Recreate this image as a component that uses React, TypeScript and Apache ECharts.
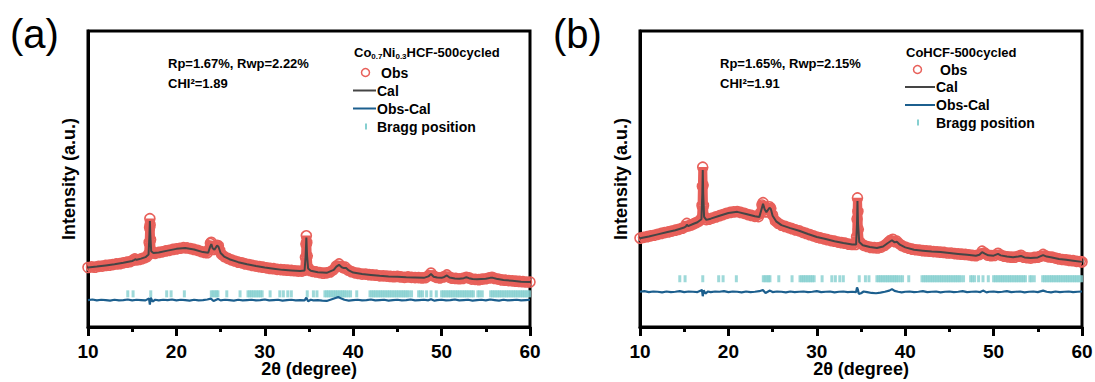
import React, { useEffect, useRef } from "react";
import * as echarts from "echarts";

// ---------- DATA ----------
const xTicks = [10, 20, 30, 40, 50, 60];

const leftObs: number[][] = [
  [10.0, 20.1], [10.4, 20.3], [10.8, 20.2], [11.2, 20.5], [11.6, 20.6], [12.0, 20.8], [12.4, 20.9], [12.8, 21.1],
  [13.2, 21.3], [13.6, 21.4], [14.0, 21.7], [14.4, 21.9], [14.8, 22.1], [15.1, 22.6], [15.3, 23.0], [15.5, 22.7],
  [15.8, 22.8], [16.1, 23.1], [16.4, 23.4], [16.7, 23.8], [16.85, 24.6], [16.92, 28.5], [16.97, 33.5], [17.0, 36.6],
  [17.03, 34.5], [17.08, 29.5], [17.15, 25.8], [17.3, 25.0], [17.6, 24.9], [18.0, 25.2], [18.4, 25.4], [18.8, 25.7],
  [19.2, 25.9], [19.6, 26.2], [20.0, 26.4], [20.4, 26.6], [20.8, 26.8], [21.2, 26.7], [21.6, 26.5], [22.0, 26.2],
  [22.4, 25.9], [22.8, 25.5], [23.2, 25.2], [23.5, 25.1], [23.7, 26.3], [23.85, 28.2], [23.95, 28.6], [24.1, 27.0],
  [24.25, 26.2], [24.4, 26.6], [24.6, 27.6], [24.75, 27.4], [24.9, 25.8], [25.1, 24.6], [25.4, 23.8], [25.8, 23.2],
  [26.2, 22.7], [26.6, 22.3], [27.0, 21.9], [27.4, 21.7], [27.8, 21.3], [28.2, 21.1], [28.6, 20.8], [29.0, 20.6],
  [29.4, 20.4], [29.8, 20.2], [30.2, 20.0], [30.6, 19.8], [31.0, 19.7], [31.4, 19.5], [31.8, 19.4], [32.2, 19.3],
  [32.6, 19.2], [33.0, 19.1], [33.4, 19.0], [33.8, 18.9], [34.2, 18.9], [34.5, 19.2], [34.6, 23.5], [34.65, 28.0],
  [34.7, 30.8], [34.75, 28.5], [34.8, 24.0], [34.9, 20.0], [35.1, 19.1], [35.4, 18.8], [35.8, 18.6], [36.2, 18.4],
  [36.6, 18.2], [37.0, 18.3], [37.4, 18.6], [37.8, 19.4], [38.1, 20.6], [38.4, 21.3], [38.7, 20.4], [38.9, 20.0],
  [39.1, 20.2], [39.4, 19.3], [39.8, 18.7], [40.2, 18.3], [40.6, 18.1], [41.0, 17.9], [41.4, 17.9], [41.8, 17.7],
  [42.2, 17.6], [42.6, 17.5], [43.0, 17.3], [43.4, 17.3], [43.8, 17.2], [44.2, 17.1], [44.6, 17.0], [45.0, 17.1],
  [45.4, 16.9], [45.8, 16.8], [46.2, 16.9], [46.6, 16.8], [47.0, 16.7], [47.4, 16.7], [47.8, 16.6], [48.2, 16.7],
  [48.5, 17.3], [48.8, 18.2], [49.1, 17.2], [49.4, 16.8], [49.8, 16.6], [50.2, 16.9], [50.6, 17.6], [50.9, 16.8],
  [51.2, 16.5], [51.6, 16.4], [52.0, 16.3], [52.4, 16.4], [52.8, 16.8], [53.1, 16.6], [53.4, 16.2], [53.8, 16.1],
  [54.2, 16.0], [54.6, 16.2], [55.0, 16.3], [55.4, 16.6], [55.7, 16.8], [56.0, 16.4], [56.4, 16.2], [56.8, 15.9],
  [57.2, 15.8], [57.6, 15.7], [58.0, 15.6], [58.4, 15.5], [58.8, 15.4], [59.2, 15.3], [59.6, 15.2], [60.0, 15.2],
];

const leftCal: number[][] = [
  [10, 20.1], [11, 20.4], [12, 20.8], [13, 21.2], [14, 21.7], [15, 22.3], [15.2, 22.6], [15.35, 22.9], [15.5, 22.7],
  [16, 23.1], [16.5, 23.6], [16.85, 24.5], [16.95, 31], [17.0, 35.8], [17.05, 31], [17.15, 25.6], [17.4, 25.0],
  [18, 25.2], [19, 25.8], [20, 26.4], [21, 26.7], [22, 26.2], [23, 25.3], [23.6, 25.1], [23.8, 27.0], [23.95, 28.0],
  [24.1, 26.6], [24.3, 26.1], [24.6, 27.5], [24.75, 27.2], [25.0, 25.0], [25.4, 23.8], [26, 22.9], [27, 21.9],
  [28, 21.2], [29, 20.6], [30, 20.1], [31, 19.7], [32, 19.3], [33, 19.1], [34, 18.9], [34.5, 19.1], [34.62, 24],
  [34.7, 30.2], [34.78, 24], [34.9, 19.8], [35.2, 19.0], [36, 18.5], [37, 18.3], [37.8, 19.3], [38.1, 20.4],
  [38.4, 21.0], [38.7, 20.2], [38.95, 19.9], [39.2, 19.9], [39.5, 19.1], [40, 18.4], [41, 17.9], [42, 17.6],
  [43, 17.3], [44, 17.1], [45, 17.0], [46, 16.8], [47, 16.7], [48, 16.6], [48.5, 17.1], [48.8, 17.9], [49.1, 17.0],
  [49.5, 16.7], [50, 16.6], [50.3, 16.9], [50.6, 17.4], [50.9, 16.7], [51.5, 16.4], [52, 16.3], [52.5, 16.5],
  [52.8, 16.8], [53.1, 16.5], [53.5, 16.2], [54, 16.1], [55, 16.3], [55.5, 16.6], [55.8, 16.6], [56.2, 16.3],
  [57, 15.9], [58, 15.6], [59, 15.3], [60, 15.2],
];

const leftDiff: number[][] = [
  [10, 9.1], [10.5, 9.3], [11, 9.0], [11.5, 9.2], [12, 9.1], [12.5, 8.9], [13, 9.2], [13.5, 9.0], [14, 9.1],
  [14.5, 9.3], [15, 9.0], [15.5, 9.2], [16, 9.1], [16.5, 9.0], [16.9, 9.6], [17.0, 7.6], [17.1, 9.9], [17.3, 8.6],
  [17.6, 9.2], [18, 9.0], [18.5, 9.2], [19, 9.1], [19.5, 9.3], [20, 9.0], [20.5, 9.2], [21, 9.1], [21.5, 8.9],
  [22, 9.2], [22.5, 9.0], [23, 9.1], [23.5, 9.3], [23.9, 9.6], [24.2, 8.8], [24.7, 9.5], [25, 9.0], [25.5, 9.2],
  [26, 9.1], [26.5, 8.9], [27, 9.2], [27.5, 9.0], [28, 9.1], [28.5, 9.2], [29, 9.0], [29.5, 9.1], [30, 9.3],
  [30.5, 9.0], [31, 9.1], [31.5, 9.2], [32, 8.9], [32.5, 9.1], [33, 9.2], [33.5, 9.0], [34, 9.1], [34.5, 9.0],
  [34.7, 9.9], [34.9, 8.7], [35.2, 9.2], [35.5, 9.0], [36, 9.1], [36.5, 8.9], [37, 8.8], [37.5, 9.3], [38, 9.8],
  [38.3, 10.1], [38.6, 9.7], [39, 9.2], [39.5, 8.9], [40, 9.1], [40.5, 9.2], [41, 9.0], [41.5, 9.1], [42, 9.3],
  [42.5, 9.0], [43, 9.1], [43.5, 9.2], [44, 8.9], [44.5, 9.1], [45, 9.2], [45.5, 9.0], [46, 9.1], [46.5, 9.3],
  [47, 9.0], [47.5, 9.1], [48, 9.2], [48.5, 9.0], [48.8, 9.4], [49.2, 8.9], [49.5, 9.1], [50, 9.2], [50.5, 9.0],
  [51, 9.1], [51.5, 9.3], [52, 9.0], [52.5, 9.1], [53, 9.2], [53.5, 8.9], [54, 9.1], [54.5, 9.2], [55, 9.0],
  [55.5, 9.3], [56, 9.1], [56.5, 8.9], [57, 9.2], [57.5, 9.0], [58, 9.1], [58.5, 9.2], [59, 9.0], [59.5, 9.1],
  [60, 9.2],
];

const rightObs: number[][] = [
  [10.0, 30.0], [10.4, 30.3], [10.8, 30.5], [11.2, 30.8], [11.6, 31.0], [12.0, 31.3], [12.4, 31.6], [12.8, 31.9],
  [13.2, 32.1], [13.6, 32.4], [14.0, 32.7], [14.4, 33.0], [14.8, 33.4], [15.1, 33.9], [15.3, 35.0], [15.5, 34.2],
  [15.8, 34.5], [16.1, 34.9], [16.4, 35.3], [16.7, 35.8], [16.95, 36.6], [17.02, 41.0], [17.06, 47.5], [17.1, 54.0],
  [17.14, 48.0], [17.18, 41.0], [17.25, 37.4], [17.5, 36.3], [17.8, 36.4], [18.2, 36.8], [18.6, 37.2], [19.0, 37.6],
  [19.4, 38.0], [19.8, 38.4], [20.2, 38.7], [20.6, 38.9], [21.0, 39.0], [21.4, 38.7], [21.8, 38.4], [22.2, 38.0],
  [22.6, 37.7], [23.0, 37.4], [23.4, 37.3], [23.65, 38.6], [23.8, 41.2], [23.92, 42.0], [24.05, 40.6], [24.25, 38.9],
  [24.45, 39.6], [24.65, 40.6], [24.8, 40.1], [25.0, 37.8], [25.3, 35.9], [25.6, 35.1], [26.0, 34.4], [26.4, 34.0],
  [26.8, 33.6], [27.2, 33.2], [27.6, 32.8], [28.0, 32.5], [28.4, 32.0], [28.8, 31.6], [29.2, 31.2], [29.6, 30.8],
  [30.0, 30.4], [30.4, 30.1], [30.8, 29.8], [31.2, 29.5], [31.6, 29.2], [32.0, 29.0], [32.4, 28.7], [32.8, 28.5],
  [33.2, 28.3], [33.6, 28.0], [34.0, 27.9], [34.4, 27.9], [34.5, 30.5], [34.55, 36.5], [34.6, 43.6], [34.65, 39.0],
  [34.7, 33.0], [34.8, 28.9], [35.0, 28.2], [35.3, 27.6], [35.7, 27.2], [36.1, 26.9], [36.5, 26.8], [36.9, 26.7],
  [37.3, 27.0], [37.7, 27.6], [38.0, 28.4], [38.3, 29.2], [38.6, 29.6], [38.85, 28.8], [39.05, 29.0], [39.3, 28.2],
  [39.6, 27.5], [40.0, 27.0], [40.4, 26.6], [40.8, 26.3], [41.2, 26.1], [41.6, 26.0], [42.0, 25.8], [42.4, 25.7],
  [42.8, 25.6], [43.2, 25.5], [43.6, 25.4], [44.0, 25.3], [44.4, 25.2], [44.8, 25.0], [45.2, 25.0], [45.6, 24.8],
  [46.0, 24.7], [46.4, 24.6], [46.8, 24.5], [47.2, 24.4], [47.6, 24.2], [48.0, 24.1], [48.4, 24.5], [48.7, 25.6],
  [49.0, 25.0], [49.3, 24.3], [49.7, 24.1], [50.1, 24.2], [50.5, 24.9], [50.8, 24.3], [51.2, 23.9], [51.6, 23.7],
  [52.0, 23.6], [52.4, 23.6], [52.8, 23.9], [53.1, 24.2], [53.4, 23.6], [53.8, 23.4], [54.2, 23.3], [54.6, 23.5],
  [55.0, 23.6], [55.3, 23.9], [55.6, 24.5], [55.9, 24.0], [56.2, 23.7], [56.6, 23.6], [57.0, 23.3], [57.4, 23.0],
  [57.8, 22.8], [58.2, 22.7], [58.6, 22.5], [59.0, 22.4], [59.4, 22.2], [59.8, 22.1], [60.0, 22.0],
];

const rightCal: number[][] = [
  [10, 30.0], [11, 30.6], [12, 31.3], [13, 32.0], [14, 32.7], [15, 33.6], [15.2, 34.0], [15.3, 34.6], [15.45, 34.1],
  [16, 34.8], [16.5, 35.4], [16.95, 36.4], [17.05, 45], [17.1, 53.0], [17.15, 45], [17.25, 37.2], [17.5, 36.2],
  [18, 36.6], [19, 37.6], [20, 38.5], [21, 38.9], [22, 38.2], [23, 37.4], [23.5, 37.2], [23.75, 39.8], [23.92, 41.6],
  [24.1, 39.8], [24.3, 38.8], [24.65, 40.3], [24.8, 39.9], [25.0, 37.6], [25.4, 35.7], [26, 34.4], [27, 33.4],
  [28, 32.5], [29, 31.4], [30, 30.4], [31, 29.7], [32, 29.0], [33, 28.4], [34, 27.9], [34.45, 27.9], [34.55, 35],
  [34.6, 42.6], [34.66, 35], [34.8, 28.7], [35.2, 27.6], [36, 27.0], [36.8, 26.7], [37.5, 27.2], [38, 28.3],
  [38.5, 29.3], [38.8, 28.6], [39.05, 28.8], [39.4, 27.8], [40, 26.9], [41, 26.1], [42, 25.8], [43, 25.5],
  [44, 25.3], [45, 25.0], [46, 24.7], [47, 24.4], [48, 24.1], [48.4, 24.4], [48.7, 25.3], [49.0, 24.8], [49.4, 24.2],
  [50, 24.1], [50.5, 24.7], [50.8, 24.2], [51.5, 23.8], [52.2, 23.6], [52.8, 23.8], [53.1, 24.0], [53.5, 23.5],
  [54.2, 23.3], [55, 23.5], [55.6, 24.3], [56, 23.8], [56.6, 23.5], [57.4, 23.0], [58.2, 22.7], [59, 22.4],
  [60, 22.0],
];

const rightDiff: number[][] = [
  [10, 11.9], [10.5, 12.1], [11, 11.8], [11.5, 12.0], [12, 11.9], [12.5, 11.7], [13, 12.0], [13.5, 11.8], [14, 11.9],
  [14.5, 12.1], [15, 11.8], [15.5, 12.0], [16, 11.9], [16.5, 11.8], [16.9, 12.3], [17.0, 12.6], [17.1, 10.4],
  [17.2, 12.4], [17.4, 11.3], [17.7, 12.0], [18, 11.8], [18.5, 12.0], [19, 11.9], [19.5, 12.1], [20, 11.8],
  [20.5, 12.0], [21, 11.9], [21.5, 11.7], [22, 12.0], [22.5, 11.8], [23, 11.9], [23.5, 12.1], [23.9, 12.5],
  [24.2, 11.5], [24.7, 12.3], [25, 11.8], [25.5, 12.0], [26, 11.9], [26.5, 11.7], [27, 12.0], [27.5, 11.8],
  [28, 11.9], [28.5, 12.0], [29, 11.8], [29.5, 11.9], [30, 12.1], [30.5, 11.8], [31, 11.9], [31.5, 12.0],
  [32, 11.7], [32.5, 11.9], [33, 12.0], [33.5, 11.8], [34, 11.9], [34.45, 11.8], [34.55, 13.4], [34.65, 12.6],
  [34.75, 11.2], [35.0, 11.4], [35.3, 12.0], [35.7, 11.8], [36.2, 11.5], [36.7, 11.4], [37.2, 11.6], [37.7, 11.9],
  [38.2, 12.3], [38.5, 12.8], [38.8, 12.2], [39.2, 11.9], [39.6, 11.7], [40, 11.9], [40.5, 12.0], [41, 11.8],
  [41.5, 11.9], [42, 12.1], [42.5, 11.8], [43, 11.9], [43.5, 12.0], [44, 11.7], [44.5, 11.9], [45, 12.0],
  [45.5, 11.8], [46, 11.9], [46.5, 12.1], [47, 11.8], [47.5, 11.9], [48, 12.0], [48.5, 11.8], [48.8, 12.3],
  [49.2, 11.7], [49.5, 11.9], [50, 12.0], [50.5, 11.8], [51, 11.9], [51.5, 12.1], [52, 11.8], [52.5, 11.9],
  [53, 12.0], [53.5, 11.7], [54, 11.9], [54.5, 12.0], [55, 11.8], [55.6, 12.3], [56, 11.9], [56.5, 11.7],
  [57, 12.0], [57.5, 11.8], [58, 11.9], [58.5, 12.0], [59, 11.8], [59.5, 11.9], [60, 12.0],
];

const braggPositions = [
  14.5, 15.1, 17.1, 18.9, 19.4, 20.9,
  23.95, 24.15, 24.35, 24.55, 24.7, 25.7, 27.2,
  28.1, 28.3, 28.5, 28.7, 28.9, 29.1, 29.3, 29.5, 29.7, 30.6, 31.7, 32.1, 32.6, 33.0,
  34.8, 35.5, 35.9,
  36.8, 37.0, 37.2, 37.4, 37.6, 37.8, 38.0, 38.2, 38.4, 38.6, 38.8, 39.0, 39.2, 39.45, 39.7, 40.4,
  41.9, 42.1, 42.3, 42.5, 42.7, 42.9, 43.1, 43.3, 43.5, 43.7, 43.9, 44.1, 44.3, 44.5, 44.7, 44.9, 45.1,
  45.3, 45.5, 45.7, 45.9, 46.1, 46.3, 46.6,
  47.4, 47.6, 47.85, 48.3, 48.8, 49.4,
  50.0, 50.2, 50.4, 50.6, 50.8, 51.0, 51.2, 51.4, 51.6, 51.8, 52.0, 52.2, 52.4, 52.6, 52.8, 53.0, 53.2,
  53.4, 53.6, 54.1, 54.3, 54.6,
  55.55, 55.75, 55.95, 56.15, 56.35, 56.55, 56.75, 56.95, 57.15, 57.35, 57.55, 57.75, 57.95, 58.15, 58.35,
  58.55, 58.75, 58.95, 59.15, 59.35, 59.55, 59.75, 59.95,
];
const leftBraggLevel = 11.2;
const rightBraggLevel = 16.3;

const panelLabels = ["(a)", "(b)"];
const legendTitles = ["{n|Co}{s|0.7}{n|Ni}{s|0.3}{n|HCF-500cycled}", "{n|CoHCF-500cycled}"];
const rpTexts = ["Rp=1.67%, Rwp=2.22%", "Rp=1.65%, Rwp=2.15%"];
const chiTexts = ["CHI²=1.89", "CHI²=1.91"];
const legendNames = ["Obs", "Cal", "Obs-Cal", "Bragg position"];

// ---------- STYLE ----------
const OBS = "#e8605a";
const CAL = "#454545";
const DIFF = "#1c5f8e";
const BRAGG = "#86cfd0";
const FONT = "'Liberation Sans', Arial, Helvetica, sans-serif";

const grids = [
  { left: 88, right: 1095 - 530, top: 31, bottom: 382 - 327 },
  { left: 640, right: 1095 - 1082, top: 31, bottom: 382 - 327 },
];

function makeAxes() {
  const xAxis: any[] = [];
  const yAxis: any[] = [];
  grids.forEach((_, i) => {
    xAxis.push({
      type: "value",
      gridIndex: i,
      min: xTicks[0],
      max: xTicks[xTicks.length - 1],
      interval: 10,
      name: "2θ (degree)",
      nameLocation: "middle",
      nameGap: 33,
      nameMoveOverlap: false,
      nameTextStyle: { fontFamily: FONT, fontWeight: "bold", fontSize: 18, color: "#000" },
      axisLine: { show: true, onZero: false, lineStyle: { color: "#000", width: 3 } },
      axisTick: { show: true, length: 9, lineStyle: { color: "#000", width: 3 } },
      minorTick: { show: true, splitNumber: 2, length: 5, lineStyle: { color: "#000", width: 3 } },
      splitLine: { show: false },
      minorSplitLine: { show: false },
      axisLabel: { margin: 15, fontFamily: FONT, fontWeight: "bold", fontSize: 19, color: "#000" },
    });
    yAxis.push({
      type: "value",
      gridIndex: i,
      min: 0,
      max: 100,
      name: "Intensity (a.u.)",
      nameLocation: "middle",
      nameGap: 10,
      nameMoveOverlap: false,
      nameTextStyle: { fontFamily: FONT, fontWeight: "bold", fontSize: 18, color: "#000" },
      axisLine: { show: true, lineStyle: { color: "#000", width: 3 } },
      axisTick: { show: false },
      axisLabel: { show: false },
      splitLine: { show: false },
    });
  });
  return { xAxis, yAxis };
}

function panelSeries(i: number, obs: number[][], cal: number[][], diff: number[][], level: number) {
  return [
    {
      name: "Obs",
      type: "line",
      xAxisIndex: i,
      yAxisIndex: i,
      data: obs,
      symbol: "circle",
      symbolSize: 10,
      showSymbol: true,
      showAllSymbol: true,
      lineStyle: { color: OBS, width: 9 },
      itemStyle: { color: "rgba(255,255,255,0)", borderColor: OBS, borderWidth: 1.6 },
      z: 2,
      silent: true,
    },
    {
      name: "Cal",
      type: "line",
      xAxisIndex: i,
      yAxisIndex: i,
      data: cal,
      symbol: "none",
      lineStyle: { color: CAL, width: 2 },
      z: 3,
      silent: true,
    },
    {
      name: "Obs-Cal",
      type: "line",
      xAxisIndex: i,
      yAxisIndex: i,
      data: diff,
      symbol: "none",
      lineStyle: { color: DIFF, width: 2.2 },
      z: 3,
      silent: true,
    },
    {
      name: "Bragg position",
      type: "scatter",
      xAxisIndex: i,
      yAxisIndex: i,
      data: braggPositions.map((p) => [p, level]),
      symbol: "rect",
      symbolSize: [3, 7],
      itemStyle: { color: BRAGG },
      z: 2,
      silent: true,
    },
  ];
}

function legendGraphics(i: number) {
  const cfg = [
    { lx: 10, tx: 168, ix: 353, title: 52, rows: [72.5, 90.5, 108.5, 126.5], textX: 377 },
    { lx: 553, tx: 720, ix: 905, title: 52, rows: [69.5, 87, 105, 122.5], textX: 936 },
  ][i];
  const bold = { fontFamily: FONT, fontWeight: "bold" as const, fill: "#000" };
  const els: any[] = [
    {
      type: "text",
      left: cfg.lx,
      top: 14,
      style: { text: panelLabels[i], font: `40px ${FONT}`, fill: "#000" },
    },
    {
      type: "text",
      x: cfg.tx,
      y: 63,
      style: { ...bold, text: rpTexts[i], fontSize: 13, verticalAlign: "middle" },
    },
    {
      type: "text",
      x: cfg.tx,
      y: 83,
      style: { ...bold, text: chiTexts[i], fontSize: 13, verticalAlign: "middle" },
    },
    {
      type: "text",
      x: cfg.ix + 1,
      y: cfg.title,
      style: {
        text: legendTitles[i],
        verticalAlign: "middle",
        rich: {
          n: { fontFamily: FONT, fontWeight: "bold", fontSize: 13, fill: "#000", lineHeight: 16 },
          s: { fontFamily: FONT, fontWeight: "bold", fontSize: 8, fill: "#000", lineHeight: 16, verticalAlign: "bottom", padding: [6, 0, 0, 0] },
        },
      },
    },
    {
      type: "circle",
      shape: { cx: cfg.ix + 12.5, cy: cfg.rows[0], r: 4 },
      style: { fill: "none", stroke: OBS, lineWidth: 1.5 },
    },
    {
      type: "line",
      shape: { x1: cfg.ix, y1: cfg.rows[1], x2: cfg.textX - 1, y2: cfg.rows[1] },
      style: { stroke: CAL, lineWidth: 2 },
    },
    {
      type: "line",
      shape: { x1: cfg.ix, y1: cfg.rows[2], x2: cfg.textX - 1, y2: cfg.rows[2] },
      style: { stroke: DIFF, lineWidth: 2 },
    },
    {
      type: "rect",
      shape: { x: cfg.ix + 12, y: cfg.rows[3] - 3, width: 2, height: 6 },
      style: { fill: BRAGG },
    },
  ];
  legendNames.forEach((n, k) => {
    els.push({
      type: "text",
      x: k === 0 ? cfg.textX + 4 : cfg.textX,
      y: cfg.rows[k],
      style: { ...bold, text: n, fontSize: 14, verticalAlign: "middle" },
    });
  });
  return els;
}

export default function App() {
  const ref = useRef<HTMLDivElement>(null);
  useEffect(() => {
    if (!ref.current) return;
    const chart = echarts.init(ref.current, undefined, { renderer: "svg" });
    const { xAxis, yAxis } = makeAxes();
    chart.setOption({
      animation: false,
      backgroundColor: "#fff",
      grid: grids.map((g) => ({
        ...g,
        show: true,
        borderColor: "#000",
        borderWidth: 3,
        backgroundColor: "transparent",
        containLabel: false,
        outerBoundsMode: "none",
      })),
      xAxis,
      yAxis,
      series: [
        ...panelSeries(0, leftObs, leftCal, leftDiff, leftBraggLevel),
        ...panelSeries(1, rightObs, rightCal, rightDiff, rightBraggLevel),
      ],
      graphic: [...legendGraphics(0), ...legendGraphics(1)],
    });
    return () => chart.dispose();
  }, []);
  return (
    <div
      ref={ref}
      style={{ position: "fixed", left: 0, top: 0, width: 1095, height: 382, background: "#fff" }}
    />
  );
}
